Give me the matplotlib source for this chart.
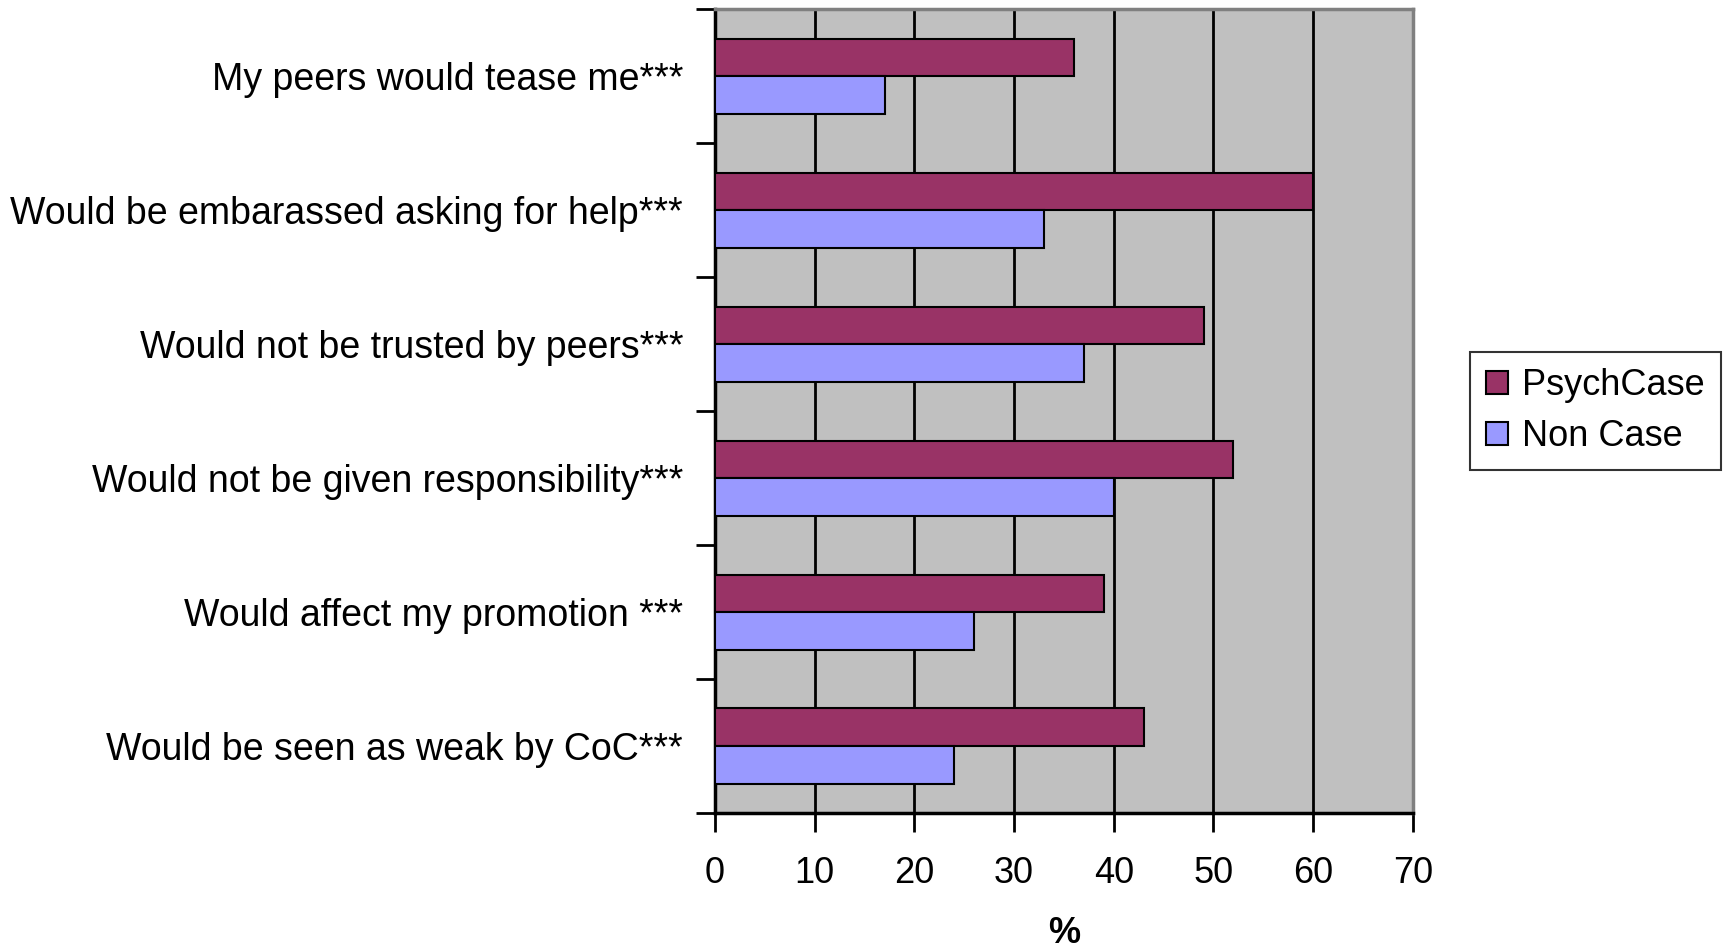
import numpy as np
import matplotlib
matplotlib.use("Agg")
import matplotlib.pyplot as plt

plt.rcParams['font.family'] = ['Liberation Sans', 'DejaVu Sans']

#----------- Data ----------------
categories = ["My peers would tease me***",
              "Would be embarassed asking for help***",
              "Would not be trusted by peers***",
              "Would not be given responsibility***",
              "Would affect my promotion ***",
              "Would be seen as weak by CoC***"]
psych_case = [36, 60, 49, 52, 39, 43]
non_case = [17, 33, 37, 40, 26, 24]
x_ticks = [0, 10, 20, 30, 40, 50, 60, 70]

#----------- Plot ----------------
fig = plt.figure(figsize=(17.23, 9.48), dpi=100)
ax = fig.add_axes([0.415, 0.1424, 0.405, 0.848])
ax.set_facecolor('#C0C0C0')

y = np.arange(len(categories))
h = 0.28
ax.barh(y - h / 2, psych_case, height=h, color='#993366', edgecolor='black', linewidth=1.5, label='PsychCase', zorder=3)
ax.barh(y + h / 2, non_case, height=h, color='#9999FF', edgecolor='black', linewidth=1.5, label='Non Case', zorder=3)

ax.set_xlim(0, 70)
ax.set_ylim(len(categories) - 0.5, -0.5)
ax.set_xticks(x_ticks)
ax.set_xticklabels([str(t) for t in x_ticks], fontsize=26)
ax.set_yticks(y)
ax.set_yticklabels(categories, fontsize=27)
ax.set_yticks(np.arange(-0.5, len(categories)), minor=True)
ax.tick_params(axis='y', which='major', length=0, pad=23)
ax.tick_params(axis='y', which='minor', length=14, width=2, direction='out')
ax.tick_params(axis='x', length=14, width=2, direction='out', pad=17)
ax.xaxis.grid(True, color='black', linewidth=2, zorder=1)
ax.set_axisbelow(True)

for side in ['left', 'bottom']:
    ax.spines[side].set_linewidth(2.5)
    ax.spines[side].set_color('black')
for side in ['top', 'right']:
    ax.spines[side].set_linewidth(2.5)
    ax.spines[side].set_color('#808080')

ax.set_xlabel('%', fontsize=26, fontweight='bold', va='center')
ax.xaxis.set_label_coords(0.5, -0.150)

leg = ax.legend(loc='center left', bbox_to_anchor=(1.082, 0.5), fontsize=26, frameon=True,
                fancybox=False, edgecolor='black', handlelength=0.6, handleheight=0.6,
                handletextpad=0.4, borderpad=0.45, labelspacing=0.45, borderaxespad=0)
leg.get_frame().set_linewidth(1.5)

fig.savefig('out.png', dpi=100)
